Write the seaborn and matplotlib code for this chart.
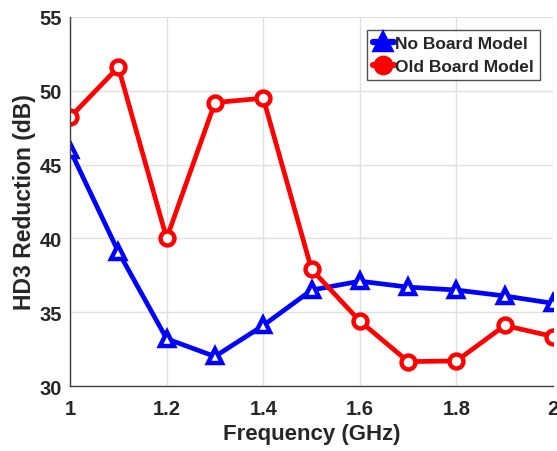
import matplotlib
matplotlib.use("Agg")
import matplotlib.pyplot as plt
import seaborn as sns
import pandas as pd

# Data
freq = [1.0, 1.1, 1.2, 1.3, 1.4, 1.5, 1.6, 1.7, 1.8, 1.9, 2.0]
no_board = [46.0, 39.1, 33.2, 32.0, 34.1, 36.5, 37.1, 36.7, 36.5, 36.1, 35.6]
old_board = [48.2, 51.6, 40.0, 49.2, 49.5, 37.9, 34.4, 31.65, 31.7, 34.1, 33.35]
y_ticks = [30, 35, 40, 45, 50, 55]
x_ticks = [1, 1.2, 1.4, 1.6, 1.8, 2]
x_labels = ["1", "1.2", "1.4", "1.6", "1.8", "2"]

sns.set_style("whitegrid")
plt.rcParams['font.family'] = ['Liberation Sans', 'DejaVu Sans']
plt.rcParams['font.weight'] = 'bold'

df = pd.DataFrame({"freq": freq * 2,
                   "val": no_board + old_board,
                   "model": ["No Board Model"] * len(freq) + ["Old Board Model"] * len(freq)})
colors = {"No Board Model": "#0000ff", "Old Board Model": "#ff0000"}

fig = plt.figure(figsize=(5.57, 4.52), dpi=100)
ax = fig.add_axes([0.1257, 0.1438, 0.8673, 0.8164])

sns.lineplot(data=df, x="freq", y="val", hue="model", style="model",
             palette=colors,
             markers={"No Board Model": "^", "Old Board Model": "o"},
             dashes=False, linewidth=3.4, markersize=10, markeredgewidth=3.2,
             ax=ax)
# hollow markers with coloured edges (MATLAB look)
for line in ax.get_lines():
    c = line.get_color()
    line.set_markeredgecolor(c)
    line.set_markerfacecolor("white")

ax.set_xlim(1, 2)
ax.set_ylim(30, 55)
ax.set_xticks(x_ticks)
ax.set_xticklabels(x_labels)
ax.set_yticks(y_ticks)
ax.tick_params(axis="both", labelsize=14.5, direction="in", length=4,
               width=1, color="#404040")
ax.tick_params(axis="x", pad=9)
ax.tick_params(axis="y", pad=6)
for lbl in ax.get_xticklabels() + ax.get_yticklabels():
    lbl.set_fontweight("bold")
    lbl.set_color("#262626")
ax.set_xlabel("Frequency (GHz)", fontsize=16, fontweight="bold", labelpad=4)
ax.set_ylabel("HD3 Reduction (dB)", fontsize=16.5, fontweight="bold", labelpad=2)

ax.grid(True, color="#e0e0e0", linewidth=1)
for s in ["top", "right"]:
    ax.spines[s].set_visible(False)
for s in ["left", "bottom"]:
    ax.spines[s].set_color("#404040")
    ax.spines[s].set_linewidth(1)

leg = ax.legend(loc="upper right", fontsize=12.5, frameon=True, fancybox=False,
                borderpad=0.35, handlelength=1.2, handletextpad=0.1,
                labelspacing=0.45, borderaxespad=0.75)
leg.get_frame().set_edgecolor("#262626")
leg.get_frame().set_linewidth(1)
for t in leg.get_texts():
    t.set_fontweight("bold")
for h in leg.legend_handles:
    c = h.get_color()
    h.set_markeredgecolor(c)
    h.set_markerfacecolor(c)
    h.set_linewidth(4.5)
    h.set_markersize(11)

fig.savefig("out.png", dpi=100)
